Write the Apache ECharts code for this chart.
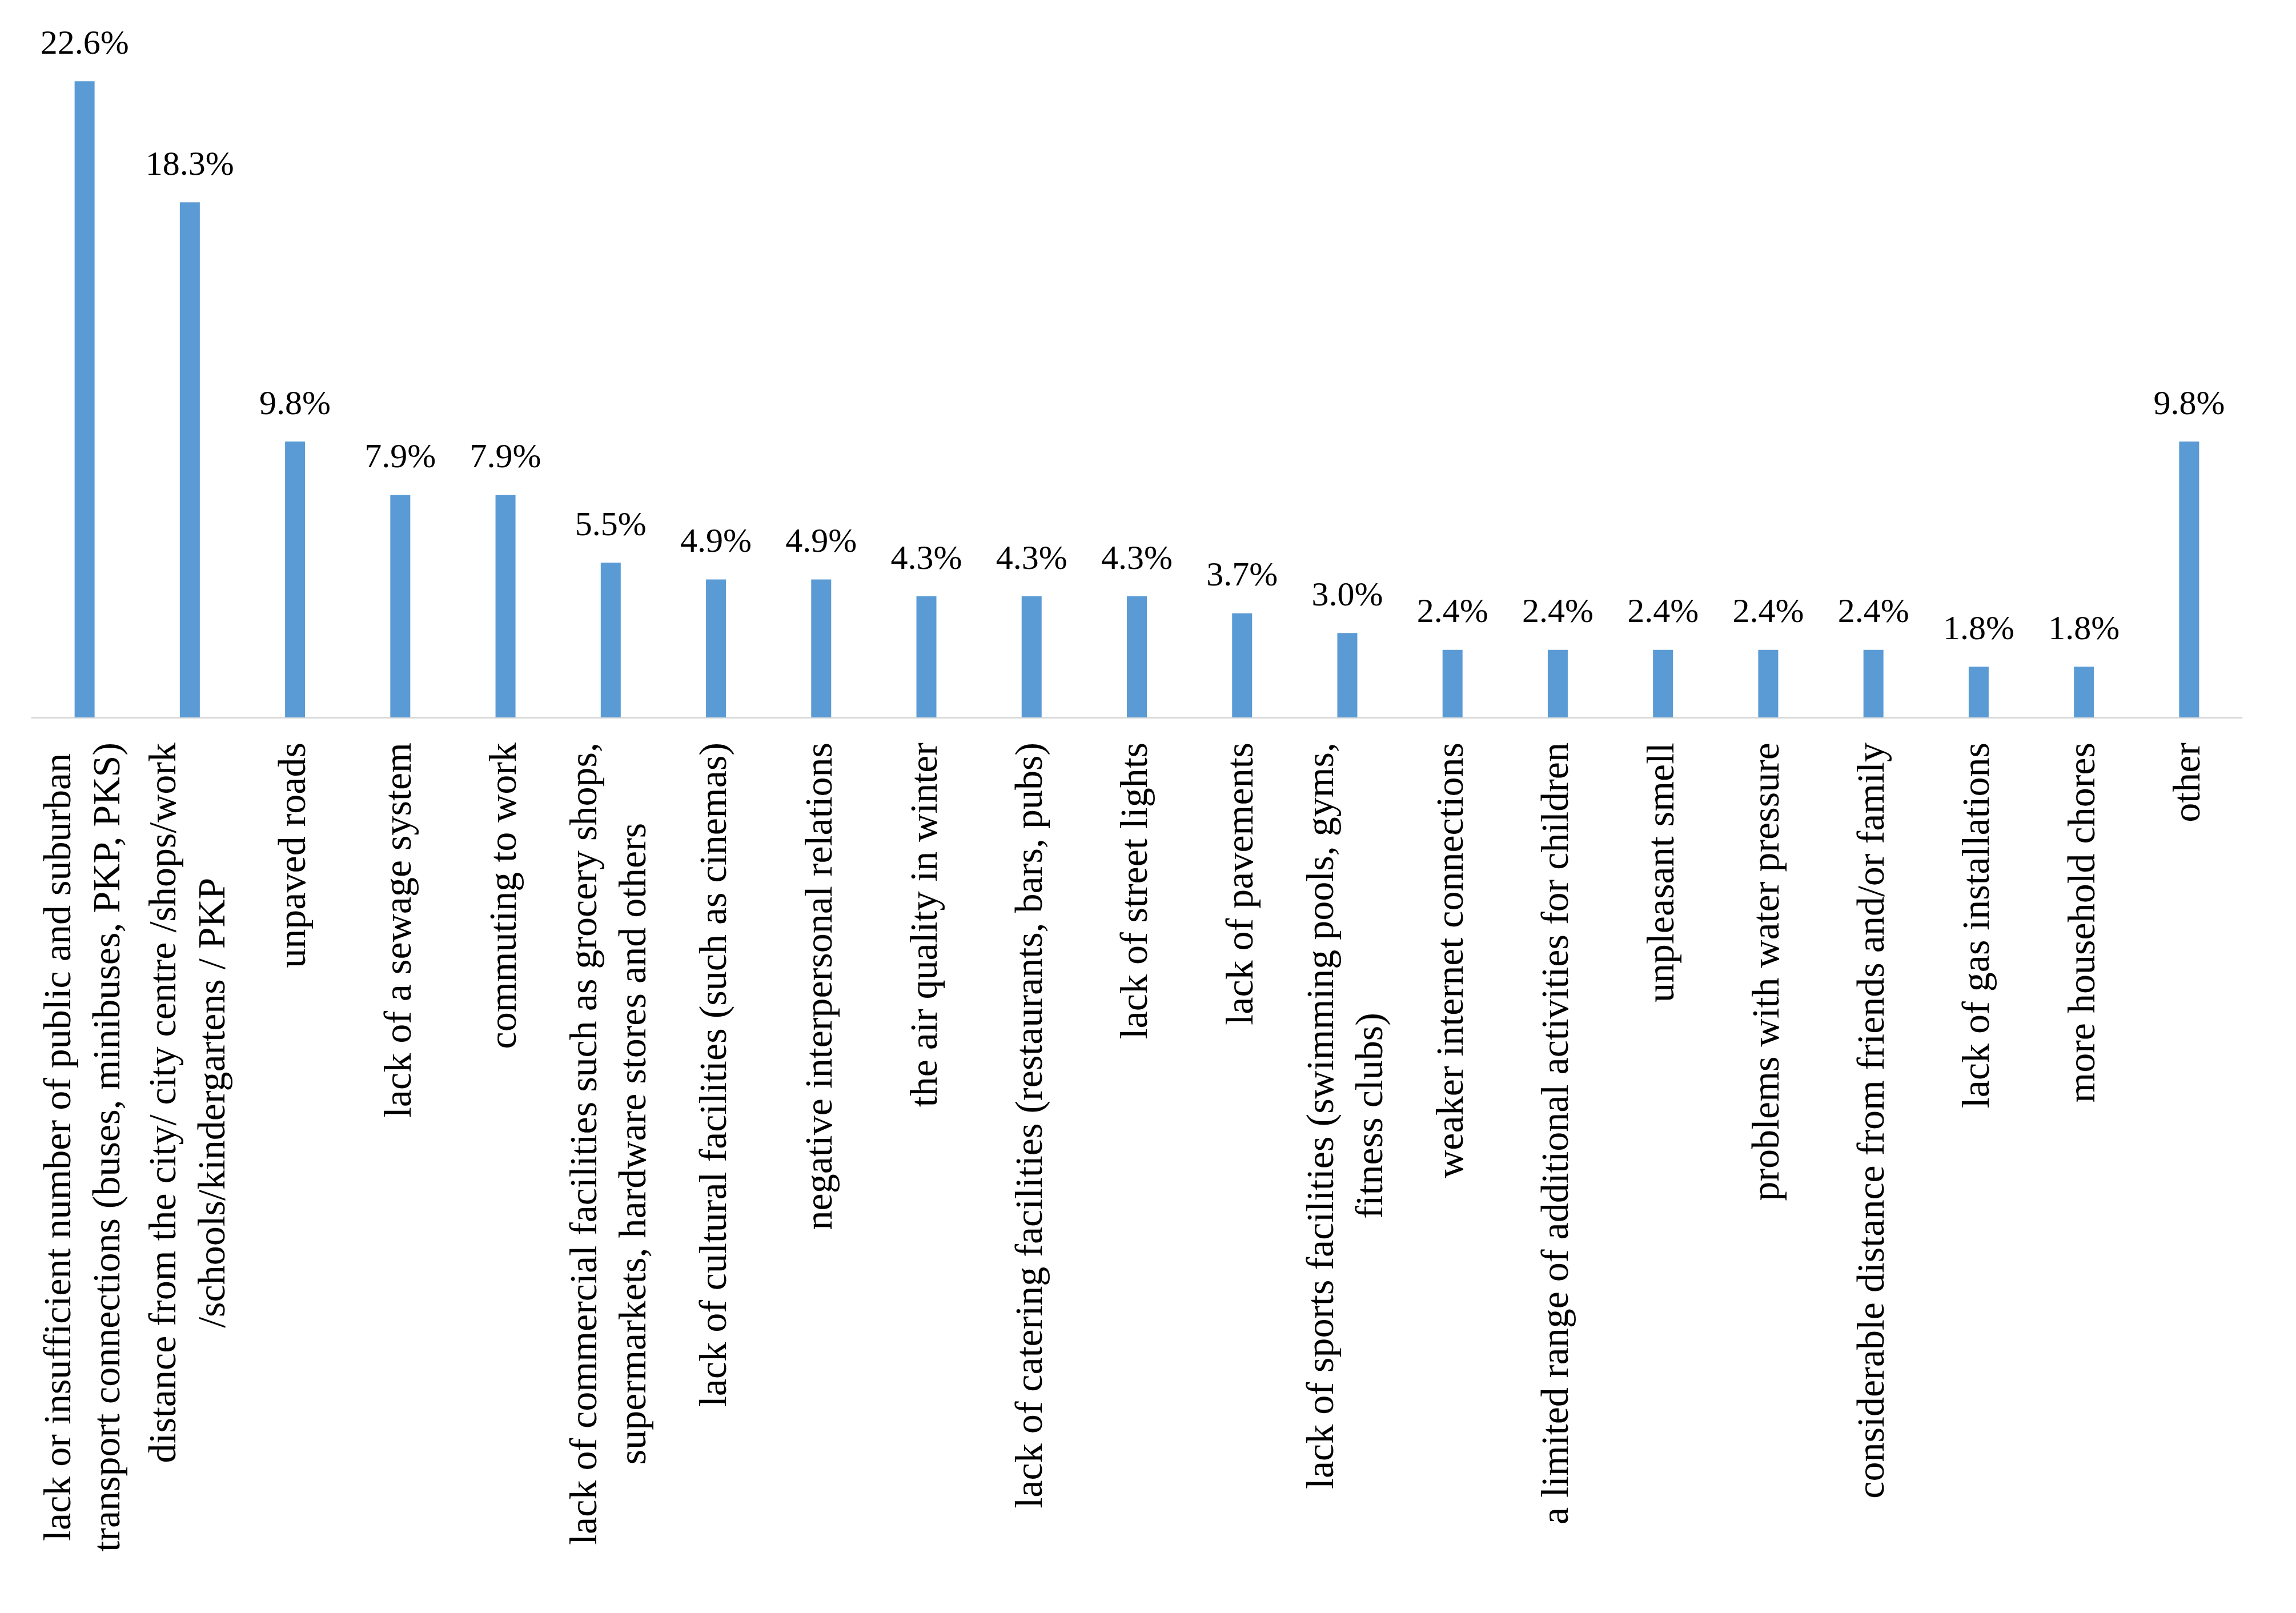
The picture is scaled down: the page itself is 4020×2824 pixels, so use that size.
<!DOCTYPE html>
<html>
<head>
<meta charset="utf-8">
<style>
html,body{margin:0;padding:0;background:#fff;}
#chart{width:4020px;height:2824px;}
</style>
<script src="https://cdn.jsdelivr.net/npm/echarts@6/dist/echarts.min.js"></script>
</head>
<body>
<div id="chart"></div>
<script>
const categories = [
  "lack or insufficient number of public and suburban\ntransport connections (buses, minibuses, PKP, PKS)",
  "distance from the city/ city centre /shops/work\n/schools/kindergartens / PKP",
  "unpaved roads",
  "lack of a sewage system",
  "commuting to work",
  "lack of commercial facilities such as grocery shops,\nsupermarkets, hardware stores and others",
  "lack of cultural facilities (such as cinemas)",
  "negative interpersonal relations",
  "the air quality in winter",
  "lack of catering facilities (restaurants, bars, pubs)",
  "lack of street lights",
  "lack of pavements",
  "lack of sports facilities (swimming pools, gyms,\nfitness clubs)",
  "weaker internet connections",
  "a limited range of additional activities for children",
  "unpleasant smell",
  "problems with water pressure",
  "considerable distance from friends and/or family",
  "lack of gas installations",
  "more household chores",
  "other"
];
const values = [22.6, 18.3, 9.8, 7.9, 7.9, 5.5, 4.9, 4.9, 4.3, 4.3, 4.3, 3.7, 3.0, 2.4, 2.4, 2.4, 2.4, 2.4, 1.8, 1.8, 9.8];

const FONT = "'Liberation Serif', 'DejaVu Serif', serif";
const chart = echarts.init(document.getElementById('chart'), null, {renderer: 'canvas'});
chart.setOption({
  backgroundColor: '#ffffff',
  animation: false,
  grid: {left: 56, right: 95, top: 24, bottom: 1568, containLabel: false},
  xAxis: {
    type: 'category',
    data: categories,
    axisLine: {show: true, lineStyle: {color: '#d9d9d9', width: 3}},
    axisTick: {show: false},
    axisLabel: {
      interval: 0,
      rotate: 90,
      margin: 44,
      color: '#000',
      fontFamily: FONT,
      fontSize: 68,
      formatter: function (v) {
        return v.split('\n').map(function (l) { return '{c|' + l + '}'; }).join('\n');
      },
      rich: {
        c: {align: 'center', fontFamily: FONT, fontSize: 68, lineHeight: 86, color: '#000'}
      }
    }
  },
  yAxis: {
    type: 'value',
    min: 0,
    max: 25,
    show: false,
    splitLine: {show: false}
  },
  series: [{
    type: 'bar',
    data: values,
    barWidth: 35,
    itemStyle: {color: '#5b9bd5'},
    label: {
      show: true,
      position: 'top',
      distance: 34,
      color: '#000',
      fontFamily: FONT,
      fontSize: 60,
      formatter: function (p) { return p.value.toFixed(1) + '%'; }
    }
  }]
});
</script>
</body>
</html>
